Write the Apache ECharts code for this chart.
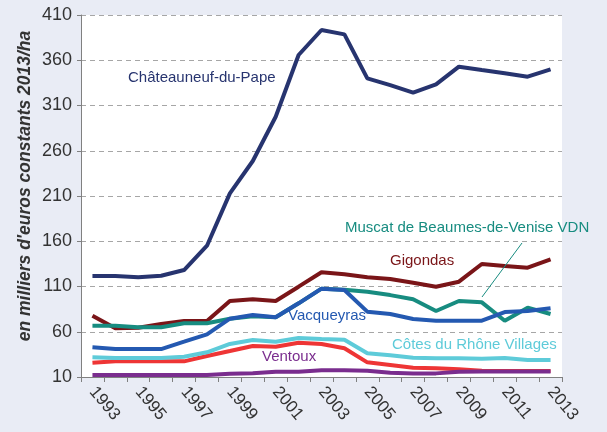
<!DOCTYPE html>
<html>
<head>
<meta charset="utf-8">
<script src="https://cdn.jsdelivr.net/npm/echarts@6/dist/echarts.min.js"></script>
<style>
html,body{margin:0;padding:0;background:#E9ECF5;}
#c{width:607px;height:432px;}
</style>
</head>
<body>
<div id="c"></div>
<script>
var years = ['1993','1994','1995','1996','1997','1998','1999','2000','2001','2002','2003','2004','2005','2006','2007','2008','2009','2010','2011','2012','2013'];
var yTicks = [10, 410, 50];

var chateauneuf = [121.6,121.6,120.1,121.9,128.2,155.1,212.9,248.7,297.6,365.8,393.4,388.6,340.0,332.6,324.2,333.4,352.9,349.2,345.6,341.8,350.0];
var gigondas    = [77.7,63.8,64.5,68.6,71.9,71.9,94.0,95.9,94.0,109.8,125.7,123.5,120.2,118.3,114.2,109.8,115.3,134.9,132.7,130.8,140.0];
var muscat      = [66.7,66.7,64.9,64.9,69.3,69.3,74.4,77.0,76.0,91.4,107.6,106.5,104.3,100.5,95.9,82.9,94.0,92.5,72.2,86.6,79.6];
var vacqueyras  = [42.8,40.9,40.9,40.9,49.0,57.2,74.4,78.5,76.0,91.4,107.6,106.1,82.2,79.6,74.1,72.2,72.2,72.2,81.8,82.9,85.9];
var cdrVillages = [31.8,31.0,31.0,31.0,32.4,37.3,46.5,50.9,49.0,53.1,52.0,51.2,36.2,34.0,31.3,30.7,30.7,30.3,31.0,28.8,28.8];
var cdr         = [25.8,27.3,27.3,27.3,27.3,33.2,38.7,44.3,43.5,47.9,46.5,41.7,26.2,23.3,20.3,19.6,18.5,17.0,16.6,16.6,16.6];
var ventoux     = [12.2,12.2,12.2,12.2,12.2,12.2,13.6,14.1,15.9,15.9,17.4,17.4,17.0,14.8,14.0,14.0,15.9,16.0,16.0,16.0,16.0];

var seriesNames = ['Gigondas','Muscat de Beaumes-de-Venise VDN','Vacqueyras','Côtes du Rhône','Côtes du Rhône Villages','Ventoux','Châteauneuf-du-Pape'];
var seriesData = [gigondas, muscat, vacqueyras, cdr, cdrVillages, ventoux, chateauneuf];
var seriesColors = ['#7A1518','#178C80','#2459B1','#EE3535','#5ECBD9','#7A2D8E','#27346F'];

var FONT = '"Liberation Sans", Arial, sans-serif';
var chart = echarts.init(document.getElementById('c'), null, {renderer:'canvas'});

var series = seriesNames.map(function(n,i){
  return {
    name:n, type:'line', data:seriesData[i], showSymbol:false, symbol:'none',
    lineStyle:{color:seriesColors[i], width:4}, itemStyle:{color:seriesColors[i]},
    animation:false, z:2+i
  };
});

function lbl(text, x, y, color){
  return {type:'text', left:x, top:y-9, z:100,
    style:{text:text, fill:color, font:'15px '+FONT}};
}

chart.setOption({
  backgroundColor:'#E9ECF5',
  animation:false,
  grid:{left:81, right:45, top:15, bottom:55, show:true, backgroundColor:'#ffffff', borderWidth:0},
  xAxis:{
    type:'category', data:years, boundaryGap:true,
    axisLine:{lineStyle:{color:'#808080', width:1}},
    axisTick:{show:true, interval:0, length:5, lineStyle:{color:'#808080'}},
    axisLabel:{interval:1, rotate:-50, fontSize:17, fontFamily:FONT, color:'#333333', margin:12},
    splitLine:{show:false}
  },
  yAxis:{
    type:'value', min:yTicks[0], max:yTicks[1], interval:yTicks[2],
    axisLine:{show:true, lineStyle:{color:'#808080', width:1}},
    axisTick:{show:true, length:4, lineStyle:{color:'#808080'}},
    axisLabel:{fontSize:18, fontFamily:FONT, color:'#333333', margin:9},
    splitLine:{show:true, lineStyle:{color:'#A6A6A6', type:[5,4], width:1}}
  },
  series:series,
  graphic:[
    {type:'text', x:25, y:186, rotation:Math.PI/2, z:100,
      style:{text:"en milliers d'euros constants 2013/ha", fill:'#333333', font:'italic bold 17.5px '+FONT, align:'center', verticalAlign:'middle'}},
    lbl('Châteauneuf-du-Pape', 128, 79, '#27346F'),
    lbl('Muscat de Beaumes-de-Venise VDN', 345, 229, '#178C80'),
    lbl('Gigondas', 390, 262, '#7A1518'),
    lbl('Vacqueyras', 288, 317, '#2459B1'),
    lbl('Côtes du Rhône Villages', 392, 346, '#5ECBD9'),
    lbl('Ventoux', 262, 358, '#7A2D8E'),
    {type:'line', z:100, shape:{x1:522, y1:243, x2:482, y2:297}, style:{stroke:'#178C80', lineWidth:1}}
  ]
});
</script>
</body>
</html>
